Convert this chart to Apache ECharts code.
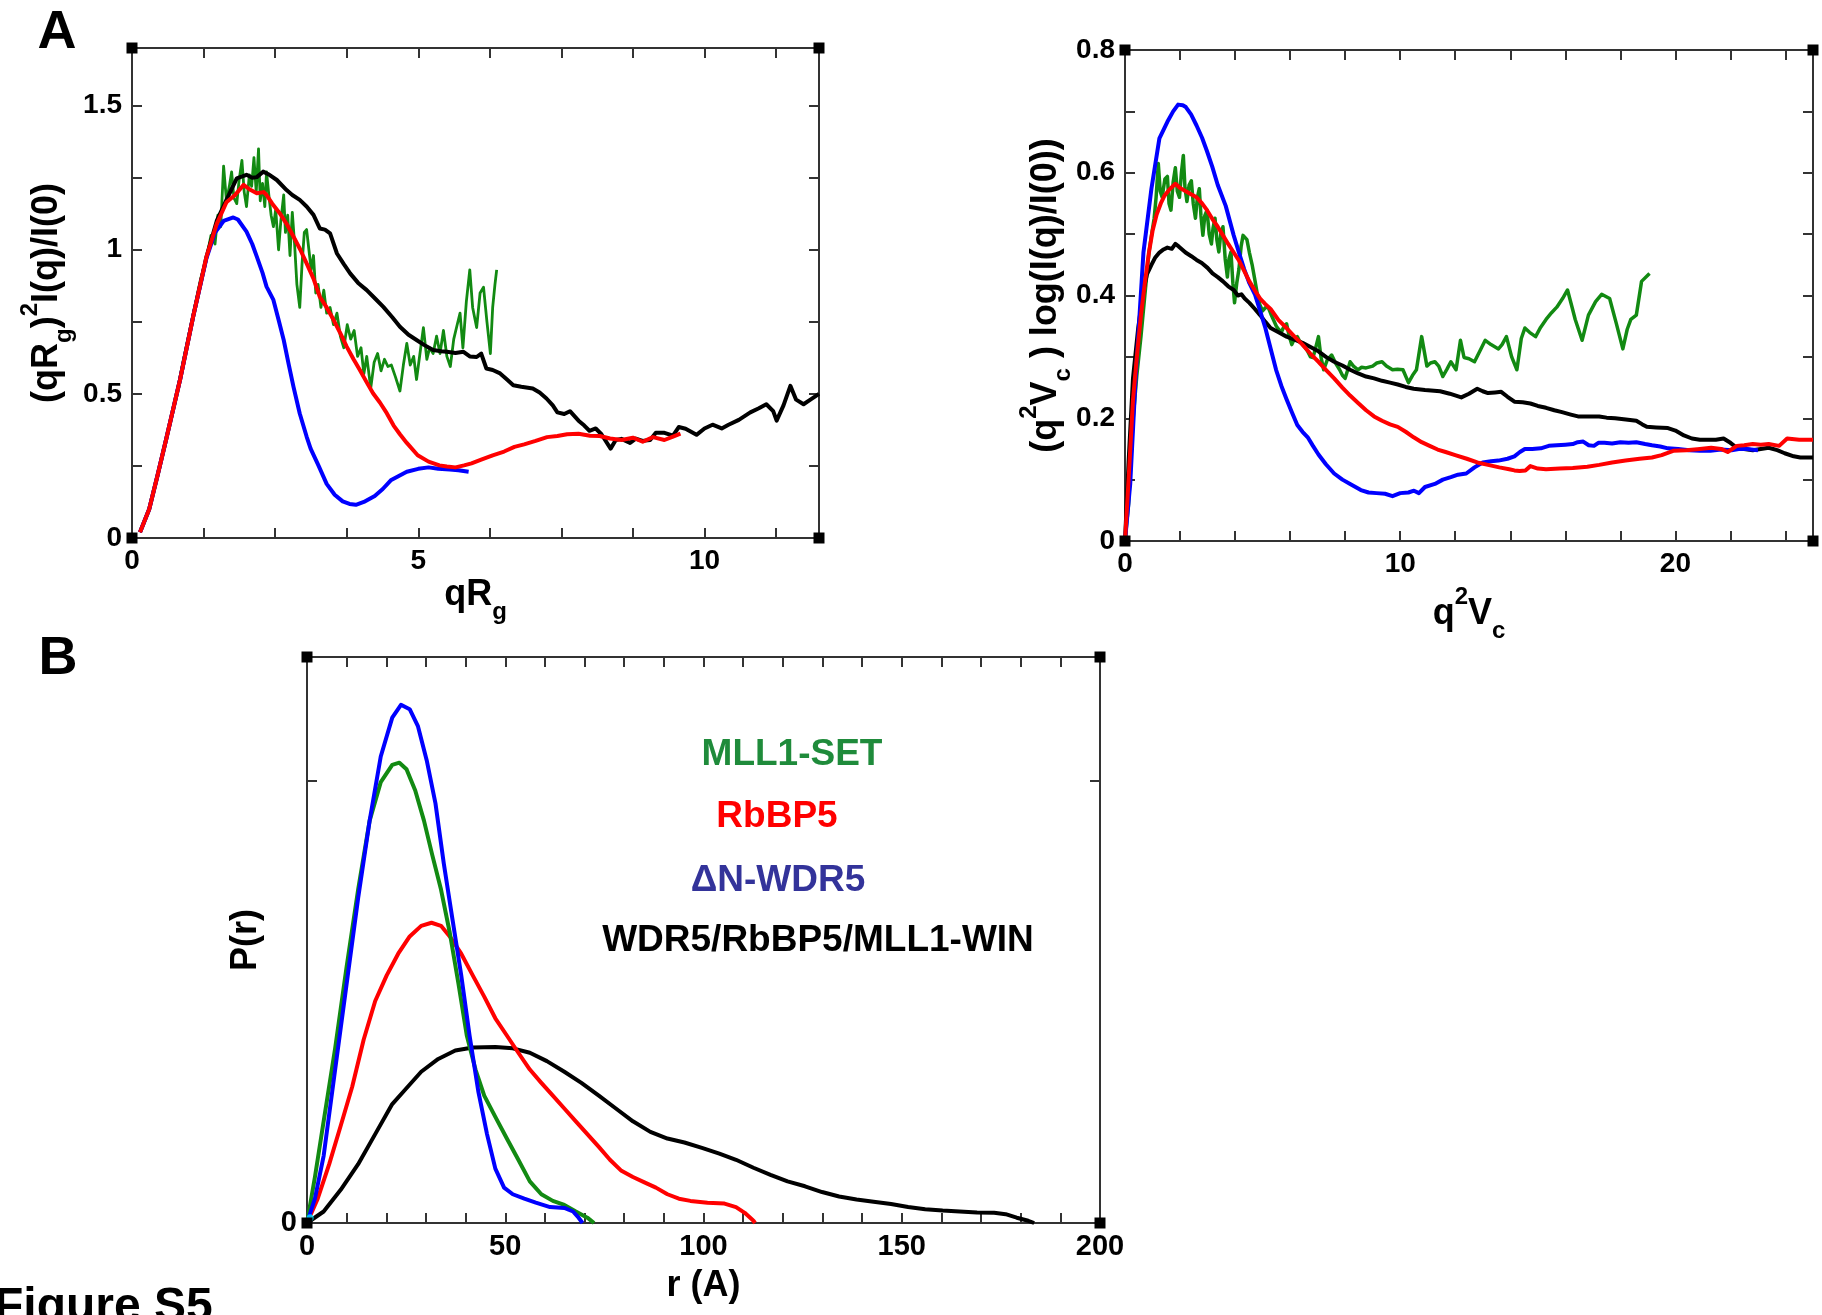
<!DOCTYPE html>
<html><head><meta charset="utf-8">
<script src="https://cdn.jsdelivr.net/npm/echarts/dist/echarts.min.js"></script>
<style>html,body{margin:0;padding:0;background:#fff;}#c{width:1822px;height:1315px;}</style>
</head><body><div id="c"></div>
<script>
// ---------- DATA ----------
// Panel A (left): qRg vs (qRg)^2 I(q)/I(0)
const a1Green = [[0.14,0.02],[0.3,0.1],[0.45,0.22],[0.6,0.345],[0.75,0.47],[0.9,0.62],[1.05,0.76],[1.2,0.9],[1.3,0.97],[1.38,1.05],[1.45,1.02],[1.5,1.12],[1.55,1.08],[1.6,1.29],[1.65,1.17],[1.7,1.22],[1.74,1.27],[1.78,1.18],[1.83,1.16],[1.87,1.24],[1.92,1.31],[1.96,1.2],[2.0,1.15],[2.05,1.26],[2.09,1.22],[2.13,1.32],[2.17,1.2],[2.21,1.35],[2.24,1.17],[2.28,1.23],[2.32,1.15],[2.35,1.27],[2.39,1.19],[2.43,1.12],[2.47,1.08],[2.51,1.14],[2.56,1.0],[2.6,1.1],[2.65,1.19],[2.68,1.06],[2.72,1.12],[2.76,0.98],[2.8,1.13],[2.84,1.02],[2.88,0.88],[2.93,0.8],[2.97,0.95],[3.01,1.06],[3.05,1.07],[3.09,1.0],[3.13,0.93],[3.17,0.98],[3.21,0.85],[3.25,0.88],[3.3,0.8],[3.35,0.86],[3.4,0.78],[3.46,0.8],[3.52,0.74],[3.58,0.78],[3.64,0.7],[3.7,0.66],[3.76,0.74],[3.82,0.69],[3.88,0.72],[3.94,0.63],[4.0,0.66],[4.05,0.57],[4.1,0.63],[4.17,0.52],[4.23,0.61],[4.29,0.64],[4.35,0.58],[4.41,0.62],[4.47,0.595],[4.53,0.6],[4.6,0.56],[4.68,0.51],[4.74,0.6],[4.8,0.675],[4.86,0.6],[4.92,0.63],[4.97,0.55],[5.03,0.64],[5.09,0.73],[5.15,0.62],[5.2,0.66],[5.26,0.64],[5.32,0.7],[5.38,0.64],[5.44,0.72],[5.5,0.63],[5.56,0.595],[5.62,0.69],[5.68,0.74],[5.73,0.78],[5.78,0.66],[5.84,0.82],[5.9,0.93],[5.95,0.8],[6.02,0.73],[6.08,0.85],[6.14,0.87],[6.2,0.75],[6.26,0.64],[6.3,0.8],[6.34,0.88],[6.37,0.93]];
const a1Black = [[0.14,0.02],[0.3,0.1],[0.45,0.22],[0.6,0.345],[0.84,0.55],[1.07,0.77],[1.3,0.975],[1.48,1.1],[1.65,1.173],[1.83,1.248],[2.0,1.26],[2.1,1.25],[2.18,1.252],[2.29,1.271],[2.4,1.26],[2.53,1.242],[2.7,1.207],[2.8,1.19],[2.93,1.173],[3.05,1.15],[3.17,1.121],[3.28,1.074],[3.37,1.07],[3.46,1.057],[3.58,0.987],[3.7,0.95],[3.81,0.918],[3.95,0.885],[4.1,0.86],[4.25,0.83],[4.39,0.802],[4.55,0.765],[4.68,0.733],[4.83,0.705],[4.97,0.687],[5.1,0.67],[5.26,0.652],[5.4,0.648],[5.5,0.646],[5.65,0.642],[5.79,0.646],[5.9,0.63],[6.02,0.628],[6.1,0.64],[6.19,0.588],[6.3,0.583],[6.43,0.571],[6.55,0.55],[6.66,0.53],[6.8,0.525],[7.0,0.519],[7.12,0.505],[7.24,0.484],[7.35,0.46],[7.43,0.436],[7.55,0.43],[7.65,0.44],[7.8,0.407],[7.9,0.39],[7.99,0.372],[8.1,0.38],[8.2,0.36],[8.36,0.31],[8.45,0.34],[8.55,0.344],[8.7,0.33],[8.8,0.345],[8.92,0.337],[9.05,0.34],[9.15,0.365],[9.3,0.365],[9.45,0.355],[9.55,0.385],[9.67,0.379],[9.86,0.358],[10.0,0.38],[10.14,0.393],[10.3,0.38],[10.42,0.393],[10.6,0.41],[10.8,0.436],[10.95,0.45],[11.08,0.464],[11.2,0.44],[11.26,0.407],[11.38,0.46],[11.5,0.528],[11.6,0.48],[11.73,0.464],[11.85,0.48],[12.0,0.5]];
const a1Blue = [[0.14,0.02],[0.3,0.1],[0.45,0.22],[0.6,0.345],[0.84,0.55],[1.07,0.77],[1.3,0.97],[1.45,1.06],[1.6,1.1],[1.77,1.112],[1.85,1.105],[2.0,1.063],[2.1,1.02],[2.18,0.976],[2.28,0.92],[2.35,0.872],[2.47,0.826],[2.56,0.757],[2.65,0.687],[2.74,0.6],[2.82,0.525],[2.93,0.432],[3.05,0.352],[3.12,0.31],[3.26,0.25],[3.4,0.188],[3.54,0.15],[3.68,0.127],[3.8,0.118],[3.91,0.115],[4.05,0.125],[4.24,0.146],[4.38,0.17],[4.52,0.2],[4.66,0.215],[4.8,0.23],[5.0,0.24],[5.18,0.245],[5.35,0.24],[5.55,0.238],[5.7,0.235],[5.88,0.23]];
const a1Red = [[0.14,0.02],[0.3,0.1],[0.45,0.22],[0.6,0.345],[0.84,0.55],[1.07,0.77],[1.3,0.975],[1.48,1.09],[1.65,1.165],[1.8,1.19],[1.95,1.225],[2.05,1.21],[2.18,1.196],[2.3,1.2],[2.35,1.19],[2.45,1.16],[2.58,1.127],[2.7,1.09],[2.82,1.046],[2.94,1.0],[3.05,0.953],[3.17,0.9],[3.28,0.837],[3.4,0.8],[3.52,0.757],[3.64,0.71],[3.75,0.664],[3.87,0.62],[3.98,0.583],[4.1,0.54],[4.21,0.502],[4.33,0.47],[4.45,0.433],[4.57,0.39],[4.68,0.36],[4.8,0.33],[4.99,0.287],[5.18,0.265],[5.37,0.252],[5.5,0.248],[5.65,0.245],[5.8,0.252],[5.93,0.259],[6.1,0.272],[6.3,0.287],[6.5,0.3],[6.68,0.316],[6.85,0.325],[7.05,0.337],[7.25,0.35],[7.43,0.354],[7.6,0.36],[7.8,0.362],[8.0,0.355],[8.17,0.354],[8.35,0.345],[8.55,0.34],[8.75,0.348],[8.92,0.334],[9.1,0.35],[9.3,0.34],[9.45,0.352],[9.58,0.362]];
// Panel A (right): q^2Vc vs (q^2Vc) log(I(q)/I(0))
const a2Green = [[0,0],[0.13,0.06],[0.29,0.196],[0.43,0.27],[0.58,0.333],[0.72,0.4],[0.87,0.47],[0.97,0.5],[1.06,0.526],[1.13,0.56],[1.21,0.615],[1.28,0.57],[1.35,0.56],[1.45,0.59],[1.54,0.594],[1.6,0.55],[1.67,0.539],[1.75,0.585],[1.83,0.608],[1.9,0.57],[1.98,0.56],[2.05,0.6],[2.12,0.628],[2.18,0.575],[2.25,0.553],[2.33,0.58],[2.41,0.587],[2.48,0.55],[2.56,0.526],[2.63,0.56],[2.7,0.574],[2.76,0.53],[2.83,0.498],[2.9,0.53],[2.98,0.539],[3.06,0.5],[3.14,0.484],[3.2,0.51],[3.27,0.526],[3.34,0.49],[3.41,0.471],[3.48,0.5],[3.56,0.512],[3.64,0.46],[3.72,0.43],[3.78,0.46],[3.85,0.471],[3.92,0.42],[3.98,0.388],[4.06,0.42],[4.14,0.443],[4.22,0.48],[4.29,0.498],[4.36,0.495],[4.43,0.491],[4.52,0.47],[4.62,0.45],[4.72,0.425],[4.81,0.402],[4.9,0.385],[5.0,0.375],[5.1,0.38],[5.2,0.381],[5.3,0.37],[5.39,0.361],[5.5,0.35],[5.58,0.345],[5.68,0.34],[5.78,0.35],[5.87,0.354],[5.96,0.335],[6.06,0.32],[6.16,0.33],[6.26,0.333],[6.35,0.325],[6.45,0.32],[6.55,0.315],[6.64,0.309],[6.74,0.3],[6.83,0.299],[6.93,0.315],[7.03,0.333],[7.12,0.3],[7.22,0.279],[7.35,0.295],[7.51,0.303],[7.65,0.29],[7.8,0.279],[7.9,0.27],[8.0,0.265],[8.1,0.28],[8.18,0.292],[8.3,0.285],[8.47,0.279],[8.6,0.283],[8.76,0.282],[9.0,0.285],[9.15,0.29],[9.34,0.292],[9.5,0.285],[9.72,0.279],[9.9,0.28],[10.1,0.279],[10.3,0.258],[10.45,0.27],[10.59,0.279],[10.78,0.333],[10.97,0.285],[11.1,0.29],[11.26,0.292],[11.4,0.285],[11.55,0.268],[11.7,0.28],[11.84,0.292],[12.03,0.279],[12.19,0.327],[12.32,0.299],[12.5,0.297],[12.7,0.292],[12.9,0.31],[13.09,0.327],[13.3,0.32],[13.57,0.313],[13.7,0.32],[13.86,0.333],[14.05,0.3],[14.24,0.279],[14.4,0.33],[14.53,0.347],[14.7,0.34],[14.92,0.333],[15.1,0.348],[15.3,0.361],[15.5,0.372],[15.69,0.381],[15.9,0.395],[16.08,0.409],[16.25,0.38],[16.36,0.361],[16.61,0.327],[16.84,0.368],[17.1,0.39],[17.32,0.402],[17.61,0.395],[17.85,0.355],[18.09,0.313],[18.25,0.345],[18.38,0.361],[18.58,0.368],[18.77,0.423],[19.06,0.436]];
const a2Black = [[0,0],[0.13,0.128],[0.29,0.265],[0.48,0.347],[0.67,0.409],[0.8,0.435],[0.96,0.45],[1.1,0.462],[1.25,0.47],[1.4,0.475],[1.54,0.478],[1.7,0.476],[1.83,0.484],[1.95,0.48],[2.02,0.478],[2.2,0.47],[2.41,0.464],[2.6,0.458],[2.79,0.453],[3.0,0.445],[3.18,0.436],[3.37,0.43],[3.56,0.423],[3.75,0.415],[3.95,0.409],[4.1,0.4],[4.23,0.402],[4.35,0.395],[4.52,0.388],[4.72,0.378],[4.91,0.368],[5.1,0.357],[5.29,0.347],[5.58,0.34],[5.87,0.333],[6.16,0.328],[6.45,0.323],[6.74,0.316],[7.03,0.309],[7.3,0.3],[7.6,0.292],[7.9,0.286],[8.18,0.279],[8.47,0.273],[8.76,0.268],[9.05,0.265],[9.34,0.261],[9.63,0.258],[9.91,0.255],[10.2,0.251],[10.49,0.248],[10.9,0.246],[11.45,0.244],[11.8,0.24],[12.22,0.234],[12.5,0.24],[12.8,0.248],[13.0,0.244],[13.19,0.241],[13.45,0.242],[13.67,0.243],[13.9,0.235],[14.15,0.227],[14.45,0.226],[14.73,0.224],[15.0,0.22],[15.3,0.217],[15.6,0.213],[15.88,0.21],[16.2,0.206],[16.46,0.203],[16.85,0.203],[17.23,0.203],[17.5,0.201],[17.81,0.2],[18.2,0.198],[18.58,0.196],[18.8,0.19],[18.96,0.186],[19.3,0.185],[19.73,0.184],[20.0,0.18],[20.31,0.172],[20.6,0.167],[20.89,0.165],[21.2,0.165],[21.47,0.165],[21.75,0.167],[22.0,0.16],[22.23,0.152],[22.5,0.15],[22.81,0.148],[23.1,0.15],[23.39,0.152],[23.7,0.148],[23.97,0.143],[24.3,0.138],[24.54,0.136],[25,0.136]];
const a2Blue = [[0,0],[0.19,0.093],[0.385,0.265],[0.67,0.47],[0.96,0.574],[1.25,0.656],[1.54,0.683],[1.75,0.7],[1.93,0.711],[2.1,0.71],[2.21,0.707],[2.4,0.695],[2.6,0.677],[2.8,0.657],[2.98,0.635],[3.17,0.61],[3.37,0.58],[3.66,0.546],[3.95,0.498],[4.14,0.47],[4.33,0.443],[4.52,0.42],[4.72,0.402],[4.91,0.375],[5.1,0.347],[5.3,0.312],[5.49,0.279],[5.68,0.253],[5.87,0.231],[6.06,0.21],[6.26,0.189],[6.45,0.178],[6.64,0.169],[6.83,0.155],[7.03,0.141],[7.3,0.125],[7.6,0.11],[7.9,0.1],[8.18,0.093],[8.57,0.083],[8.85,0.079],[9.14,0.078],[9.45,0.077],[9.72,0.073],[10.0,0.078],[10.3,0.079],[10.5,0.082],[10.68,0.078],[10.9,0.088],[11.26,0.093],[11.55,0.1],[11.84,0.104],[12.1,0.108],[12.4,0.11],[12.7,0.12],[13.0,0.128],[13.3,0.13],[13.57,0.131],[13.9,0.134],[14.15,0.138],[14.35,0.145],[14.53,0.15],[14.8,0.15],[15.11,0.151],[15.4,0.155],[15.69,0.156],[16.0,0.157],[16.27,0.158],[16.45,0.161],[16.65,0.162],[16.85,0.156],[17.04,0.155],[17.2,0.16],[17.42,0.16],[17.7,0.159],[18.0,0.161],[18.3,0.16],[18.58,0.161],[18.9,0.158],[19.15,0.156],[19.45,0.154],[19.73,0.151],[20.1,0.15],[20.5,0.148],[20.9,0.147],[21.27,0.147],[21.66,0.149],[22.04,0.148],[22.3,0.15],[22.6,0.15],[23.0,0.148]];
const a2Red = [[0,0],[0.13,0.1],[0.29,0.23],[0.43,0.3],[0.58,0.368],[0.72,0.42],[0.87,0.47],[1.0,0.505],[1.15,0.532],[1.3,0.55],[1.44,0.563],[1.6,0.572],[1.83,0.582],[2.0,0.575],[2.21,0.57],[2.4,0.565],[2.6,0.56],[2.8,0.55],[2.98,0.539],[3.17,0.525],[3.37,0.512],[3.56,0.498],[3.75,0.484],[3.95,0.47],[4.14,0.457],[4.33,0.44],[4.52,0.423],[4.72,0.408],[4.91,0.395],[5.1,0.386],[5.29,0.378],[5.58,0.36],[5.87,0.347],[6.16,0.333],[6.45,0.32],[6.74,0.305],[7.03,0.292],[7.3,0.279],[7.6,0.265],[7.9,0.25],[8.18,0.237],[8.47,0.225],[8.76,0.213],[9.05,0.203],[9.34,0.196],[9.63,0.19],[9.91,0.186],[10.2,0.178],[10.49,0.169],[10.78,0.161],[11.07,0.155],[11.36,0.149],[11.65,0.145],[12.0,0.14],[12.42,0.134],[12.8,0.128],[13.19,0.124],[13.6,0.12],[13.96,0.117],[14.15,0.115],[14.34,0.114],[14.55,0.115],[14.73,0.122],[15.0,0.118],[15.3,0.117],[15.8,0.118],[16.27,0.119],[16.8,0.121],[17.23,0.124],[17.7,0.128],[18.19,0.131],[18.7,0.134],[19.15,0.136],[19.5,0.14],[19.92,0.147],[20.4,0.148],[20.89,0.15],[21.3,0.152],[21.66,0.15],[21.9,0.145],[22.23,0.155],[22.5,0.156],[22.81,0.158],[23.1,0.157],[23.39,0.158],[23.77,0.155],[24.06,0.167],[24.5,0.165],[25,0.165]];
// Panel B: r (A) vs P(r) (arbitrary units)
const bBlack = [[0,0],[4.2,0.026],[8.5,0.075],[12.9,0.133],[17.2,0.201],[21.5,0.269],[24.4,0.298],[28.8,0.342],[33.1,0.371],[37.4,0.39],[41.8,0.397],[47.5,0.398],[51.9,0.395],[56.2,0.385],[60.5,0.366],[64.9,0.342],[69.2,0.317],[73.6,0.288],[77.9,0.259],[82.2,0.23],[86.6,0.206],[90.9,0.191],[95.2,0.182],[99.6,0.17],[104,0.157],[108.2,0.143],[112.6,0.125],[116.9,0.109],[121.2,0.094],[125.6,0.083],[129.9,0.07],[134.2,0.06],[138.6,0.053],[142.9,0.048],[147.3,0.043],[151.6,0.036],[155.9,0.031],[160.3,0.028],[164.6,0.026],[169,0.024],[173.3,0.023],[176.2,0.02],[179,0.012],[181.9,0.005],[183.4,0]];
const bRed = [[0,0],[2.7,0.055],[5.6,0.133],[8.5,0.22],[11.4,0.308],[14.3,0.415],[17.2,0.502],[20.1,0.56],[23,0.609],[25.9,0.648],[28.8,0.672],[31.4,0.679],[33.8,0.672],[36,0.648],[38.9,0.609],[41.8,0.56],[44.7,0.512],[47.5,0.463],[50.4,0.424],[53.3,0.385],[56.2,0.347],[59.1,0.317],[62,0.288],[64.9,0.259],[67.8,0.23],[70.7,0.201],[73.6,0.172],[76.4,0.143],[79.3,0.118],[82.2,0.104],[85.1,0.092],[88,0.08],[90.9,0.065],[93.8,0.055],[96.7,0.05],[101,0.046],[105.3,0.044],[108.2,0.036],[110.4,0.023],[112.6,0.005],[113,0]];
const bGreen = [[0,0],[2,0.104],[4.2,0.23],[7.1,0.395],[10,0.58],[12.9,0.754],[15.8,0.91],[18.6,0.997],[21.5,1.036],[23.3,1.041],[25.1,1.026],[27.3,0.978],[29.5,0.91],[31.6,0.832],[33.8,0.754],[36,0.657],[38.2,0.541],[40.3,0.424],[42.5,0.347],[44.7,0.288],[47.5,0.24],[50.4,0.191],[53.3,0.143],[56.2,0.094],[59.1,0.065],[62,0.05],[64.9,0.041],[67.8,0.026],[70.7,0.012],[72.4,0]];
const bBlue = [[0,0],[2,0.055],[4.2,0.152],[7.1,0.347],[10,0.541],[12.9,0.735],[15.8,0.91],[18.6,1.055],[21.5,1.143],[23.7,1.172],[25.9,1.162],[28,1.123],[30.2,1.046],[32.4,0.949],[34.5,0.813],[36.7,0.686],[38.9,0.56],[41,0.424],[43.2,0.298],[45.4,0.201],[47.5,0.123],[49.7,0.08],[51.9,0.065],[54.8,0.055],[57.7,0.046],[61.3,0.036],[64.9,0.034],[67.1,0.026],[68.5,0.012],[69.5,0]];
const bOrigin = [[0.8,0.012]];
const legendNames = ['MLL1-SET','RbBP5','\u0394N-WDR5','WDR5/RbBP5/MLL1-WIN'];
// tick labels
const a1XLabels = [0,5,10], a1YLabels = [0,0.5,1,1.5];
const a2XLabels = [0,10,20], a2YLabels = [0,0.2,0.4,0.6,0.8];
const bXLabels = [0,50,100,150,200], bYLabels = [0];

// ---------- STYLE / LAYOUT ----------
const FONT = "'Liberation Sans', Arial, Helvetica, sans-serif";
const C = {green:'#128a12', black:'#000000', blue:'#0000ff', red:'#ff0000',
           tGreen:'#1f8b3b', tRed:'#ff0000', tBlue:'#33339a', tBlack:'#000000', cyan:'#00e5ff'};
const G = [
  {left:132, top:48, width:687, height:490},
  {left:1125, top:50, width:688, height:491},
  {left:307, top:657, width:793, height:566}
];
function rich(main, small){
  const base = {fontFamily:FONT, fontWeight:'bold', color:'#000'};
  return {
    m: Object.assign({fontSize:main, lineHeight:58}, base),
    s: Object.assign({fontSize:small, lineHeight:small, verticalAlign:'bottom'}, base),
    p: Object.assign({fontSize:small, lineHeight:small, verticalAlign:'top'}, base)
  };
}
function axis(o){
  const ax = {
    type:'value', gridIndex:o.grid, position:o.pos, min:o.min, max:o.max, interval:o.interval,
    axisLine:{show:true, onZero:false, lineStyle:{color:'#333', width:2}},
    axisTick:{show:true, inside:true, length:10, lineStyle:{color:'#333', width:2}},
    splitLine:{show:false},
    axisLabel:{show:false},
    nameMoveOverlap:false
  };
  if (o.labels) {
    ax.axisLabel = {show:true, margin:o.margin||9, fontFamily:FONT, fontWeight:'bold', fontSize:o.fs, color:'#000',
      showMinLabel:true, showMaxLabel:true, hideOverlap:false,
      formatter:v=>{const l=o.labels.find(x=>Math.abs(x-v)<1e-6); return l===undefined?'':String(l);}};
  }
  if (o.name) {
    ax.name = o.name; ax.nameLocation='middle'; ax.nameGap=o.gap;
    ax.nameTextStyle = {fontFamily:FONT, fontWeight:'bold', fontSize:36, color:'#000', rich:rich(36,24)};
  }
  return ax;
}
const xAxes = [
  axis({grid:0,pos:'bottom',min:0,max:12,interval:1.25,labels:a1XLabels,fs:28,name:'{m|qR}{s|g}',gap:28}),
  axis({grid:0,pos:'top',min:0,max:12,interval:1.25}),
  axis({grid:1,pos:'bottom',min:0,max:25,interval:2,labels:a2XLabels,fs:28,name:'{m|q}{p|2}{m|V}{s|c}',gap:44}),
  axis({grid:1,pos:'top',min:0,max:25,interval:2}),
  axis({grid:2,pos:'bottom',min:0,max:200,interval:10,labels:bXLabels,fs:29,name:'{m|r (A)}',gap:34}),
  axis({grid:2,pos:'top',min:0,max:200,interval:10})
];
const yAxes = [
  axis({grid:0,pos:'left',min:0,max:1.7,interval:0.25,labels:a1YLabels,fs:28,margin:10,name:'{m|(qR}{s|g}{m|)}{p|2}{m|I(q)/I(0)}',gap:56}),
  axis({grid:0,pos:'right',min:0,max:1.7,interval:0.25}),
  axis({grid:1,pos:'left',min:0,max:0.8,interval:0.1,labels:a2YLabels,fs:28,margin:10,name:'{m|(q}{p|2}{m|V}{s|c}{m| ) log(I(q)/I(0))}',gap:50}),
  axis({grid:1,pos:'right',min:0,max:0.8,interval:0.1}),
  axis({grid:2,pos:'left',min:0,max:1.28,interval:1,labels:bYLabels,fs:29,margin:10,name:'{m|P(r)}',gap:32}),
  axis({grid:2,pos:'right',min:0,max:1.28,interval:1})
];
function ln(data, color, w, idx, z){
  return {type:'line', xAxisIndex:idx, yAxisIndex:idx, data:data, showSymbol:false, symbol:'none',
    lineStyle:{color:color, width:w, join:'round'}, itemStyle:{color:color}, z:z, silent:true};
}
const series = [
  ln(a1Green, C.green, 2.8, 0, 2), ln(a1Black, C.black, 4, 0, 3), ln(a1Blue, C.blue, 4, 0, 4), ln(a1Red, C.red, 4, 0, 5),
  ln(a2Green, C.green, 3.5, 2, 2), ln(a2Black, C.black, 4, 2, 3), ln(a2Blue, C.blue, 4, 2, 4), ln(a2Red, C.red, 4, 2, 5),
  ln(bBlack, C.black, 4, 4, 2), ln(bRed, C.red, 4, 4, 3), ln(bGreen, C.green, 4, 4, 4), ln(bBlue, C.blue, 4, 4, 5),
  {type:'scatter', xAxisIndex:4, yAxisIndex:4, data:bOrigin, symbolSize:7, itemStyle:{color:C.cyan}, z:6, silent:true}
];
// graphic: panel letters, legend texts, frame corner squares
const graphic = [];
function txt(s, x, y, size, color, align){
  graphic.push({type:'text', x:x, y:y, z:20, silent:true,
    style:{text:s, x:0, y:0, fill:color, font:'bold '+size+'px '+FONT, textAlign:align||'center', textVerticalAlign:'middle'}});
}
txt('A', 57, 33, 54, '#000');
txt('B', 58, 659, 54, '#000');
txt('Figure S5', -6, 1308, 48, '#000', 'left');
const legColors = [C.tGreen, C.tRed, C.tBlue, C.tBlack];
const legPos = [[792,755],[777,817],[778,881],[818,941]];
legendNames.forEach((n,i)=>txt(n, legPos[i][0], legPos[i][1], 37, legColors[i]));
G.forEach(g=>{
  [[g.left,g.top],[g.left+g.width,g.top],[g.left,g.top+g.height],[g.left+g.width,g.top+g.height]].forEach(p=>{
    graphic.push({type:'rect', z:30, silent:true, shape:{x:p[0]-5.5, y:p[1]-5.5, width:11, height:11}, style:{fill:'#000'}});
  });
});

const chart = echarts.init(document.getElementById('c'), null, {renderer:'canvas'});
chart.setOption({
  backgroundColor:'#ffffff',
  animation:false,
  grid: G.map(g=>Object.assign({containLabel:false, outerBoundsMode:'none'}, g)),
  xAxis: xAxes,
  yAxis: yAxes,
  series: series,
  graphic: graphic
});
</script></body></html>
